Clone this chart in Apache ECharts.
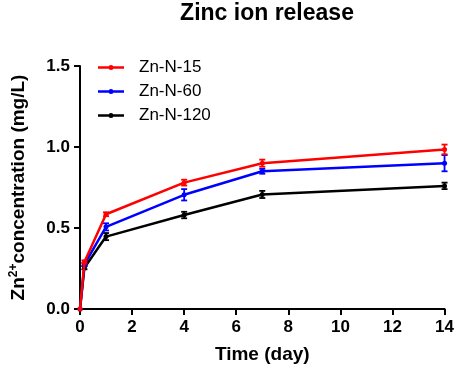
<!DOCTYPE html>
<html>
<head>
<meta charset="utf-8">
<script src="https://cdn.jsdelivr.net/npm/echarts@6/dist/echarts.min.js"></script>
<style>
  html, body { margin: 0; padding: 0; background: #fff; }
  #main { width: 457px; height: 369px; }
</style>
</head>
<body>
<div id="main"></div>
<script>
// 时间点 (day)
var days = [0, 0.17, 1, 4, 7, 14]
var seriesNames = ['Zn-N-15', 'Zn-N-60', 'Zn-N-120']
var colors = ['#ff0000', '#0000ff', '#000000']

// 平均值
var zn15 = [0, 0.29, 0.585, 0.78, 0.90, 0.985]
var zn60 = [0, 0.275, 0.507, 0.705, 0.85, 0.90]
var zn120 = [0, 0.255, 0.447, 0.58, 0.707, 0.76]

// 误差 (SD)
var err15 = [0, 0.01, 0.012, 0.018, 0.022, 0.03]
var err60 = [0, 0.01, 0.022, 0.035, 0.015, 0.05]
var err120 = [0, 0.01, 0.022, 0.02, 0.022, 0.02]

var yTicks = [0, 0.5, 1.0, 1.5]

function toPoints (vals) {
    var pts = []
    for (var i = 0; i < days.length; i++) {
        pts.push([days[i], vals[i]])
    }
    return pts
}

function toErr (vals, errs) {
    var pts = []
    for (var i = 0; i < days.length; i++) {
        if (errs[i] > 0) {
            pts.push([days[i], vals[i] - errs[i], vals[i] + errs[i]])
        }
    }
    return pts
}

function errRender (color) {
    return function (params, api) {
        var x = api.value(0)
        var lo = api.coord([x, api.value(1)])
        var hi = api.coord([x, api.value(2)])
        var w = 3
        var style = { stroke: color, lineWidth: 1.8 }
        return {
            type: 'group',
            children: [
                { type: 'line', shape: { x1: lo[0], y1: lo[1], x2: hi[0], y2: hi[1] }, style: style },
                { type: 'line', shape: { x1: lo[0] - w, y1: lo[1], x2: lo[0] + w, y2: lo[1] }, style: style },
                { type: 'line', shape: { x1: hi[0] - w, y1: hi[1], x2: hi[0] + w, y2: hi[1] }, style: style }
            ]
        }
    }
}

// 图例图标: 线 + 点
var legendIcon = 'path://M0,5.75 L10.8,5.75 L10.8,8.25 L0,8.25 Z M15.2,5.75 L26,5.75 L26,8.25 L15.2,8.25 Z M15.5,7 A2.5,2.5 0 1,1 10.5,7 A2.5,2.5 0 1,1 15.5,7 Z'

var allVals = [zn15, zn60, zn120]
var allErrs = [err15, err60, err120]
var series = []
for (var k = 0; k < 3; k++) {
    series.push({
        name: seriesNames[k],
        type: 'line',
        data: toPoints(allVals[k]),
        symbol: 'circle',
        symbolSize: 5,
        z: 3 - k + 2,
        lineStyle: { color: colors[k], width: 2.5 },
        itemStyle: { color: colors[k] }
    })
    series.push({
        name: seriesNames[k],
        type: 'custom',
        data: toErr(allVals[k], allErrs[k]),
        renderItem: errRender(colors[k]),
        z: 3 - k + 2
    })
}

var myChart = echarts.init(document.getElementById('main'))
var option = {
    animation: false,
    backgroundColor: '#fff',
    textStyle: { fontFamily: 'Liberation Sans, Arial, sans-serif' },
    title: {
        text: 'Zinc ion release',
        left: 262,
        textAlign: 'center',
        top: -3,
        textStyle: { fontSize: 23, fontWeight: 'bold', color: '#000' }
    },
    legend: {
        data: seriesNames.map(function (n) {
            return { name: n, icon: legendIcon }
        }),
        orient: 'vertical',
        left: 93,
        top: 54,
        itemWidth: 26,
        itemHeight: 5,
        itemGap: 7,
        textStyle: { fontSize: 17, color: '#000', padding: [0, 0, 0, 10] }
    },
    grid: { left: 80, right: 12, top: 66, bottom: 59 },
    xAxis: {
        type: 'value',
        min: 0,
        max: 14,
        interval: 2,
        name: 'Time (day)',
        nameLocation: 'middle',
        nameGap: 36,
        nameTextStyle: { fontSize: 19, fontWeight: 'bold', color: '#000' },
        axisLine: { lineStyle: { color: '#000', width: 2 } },
        axisTick: { lineStyle: { color: '#000', width: 2 }, length: 6 },
        axisLabel: { fontSize: 17, fontWeight: 'bold', color: '#000', margin: 10 },
        splitLine: { show: false }
    },
    yAxis: {
        type: 'value',
        min: yTicks[0],
        max: yTicks[yTicks.length - 1],
        interval: 0.5,
        name: '{b|Zn}{s|2+}{b|concentration (mg/L)}',
        nameLocation: 'middle',
        nameRotate: 90,
        nameGap: 51,
        nameTextStyle: {
            rich: {
                b: { fontSize: 19, fontWeight: 'bold', color: '#000', fontFamily: 'Liberation Sans' },
                s: { fontSize: 12, fontWeight: 'bold', color: '#000', fontFamily: 'Liberation Sans', verticalAlign: 'top', padding: [0, 0, 9, 0] }
            }
        },
        axisLine: { show: true, lineStyle: { color: '#000', width: 2 } },
        axisTick: { show: true, lineStyle: { color: '#000', width: 2 }, length: 6 },
        axisLabel: {
            fontSize: 17, fontWeight: 'bold', color: '#000', margin: 10,
            formatter: function (v) { return v.toFixed(1) }
        },
        splitLine: { show: false }
    },
    series: series
}
myChart.setOption(option)
window.onresize = myChart.resize
</script>
</body>
</html>
